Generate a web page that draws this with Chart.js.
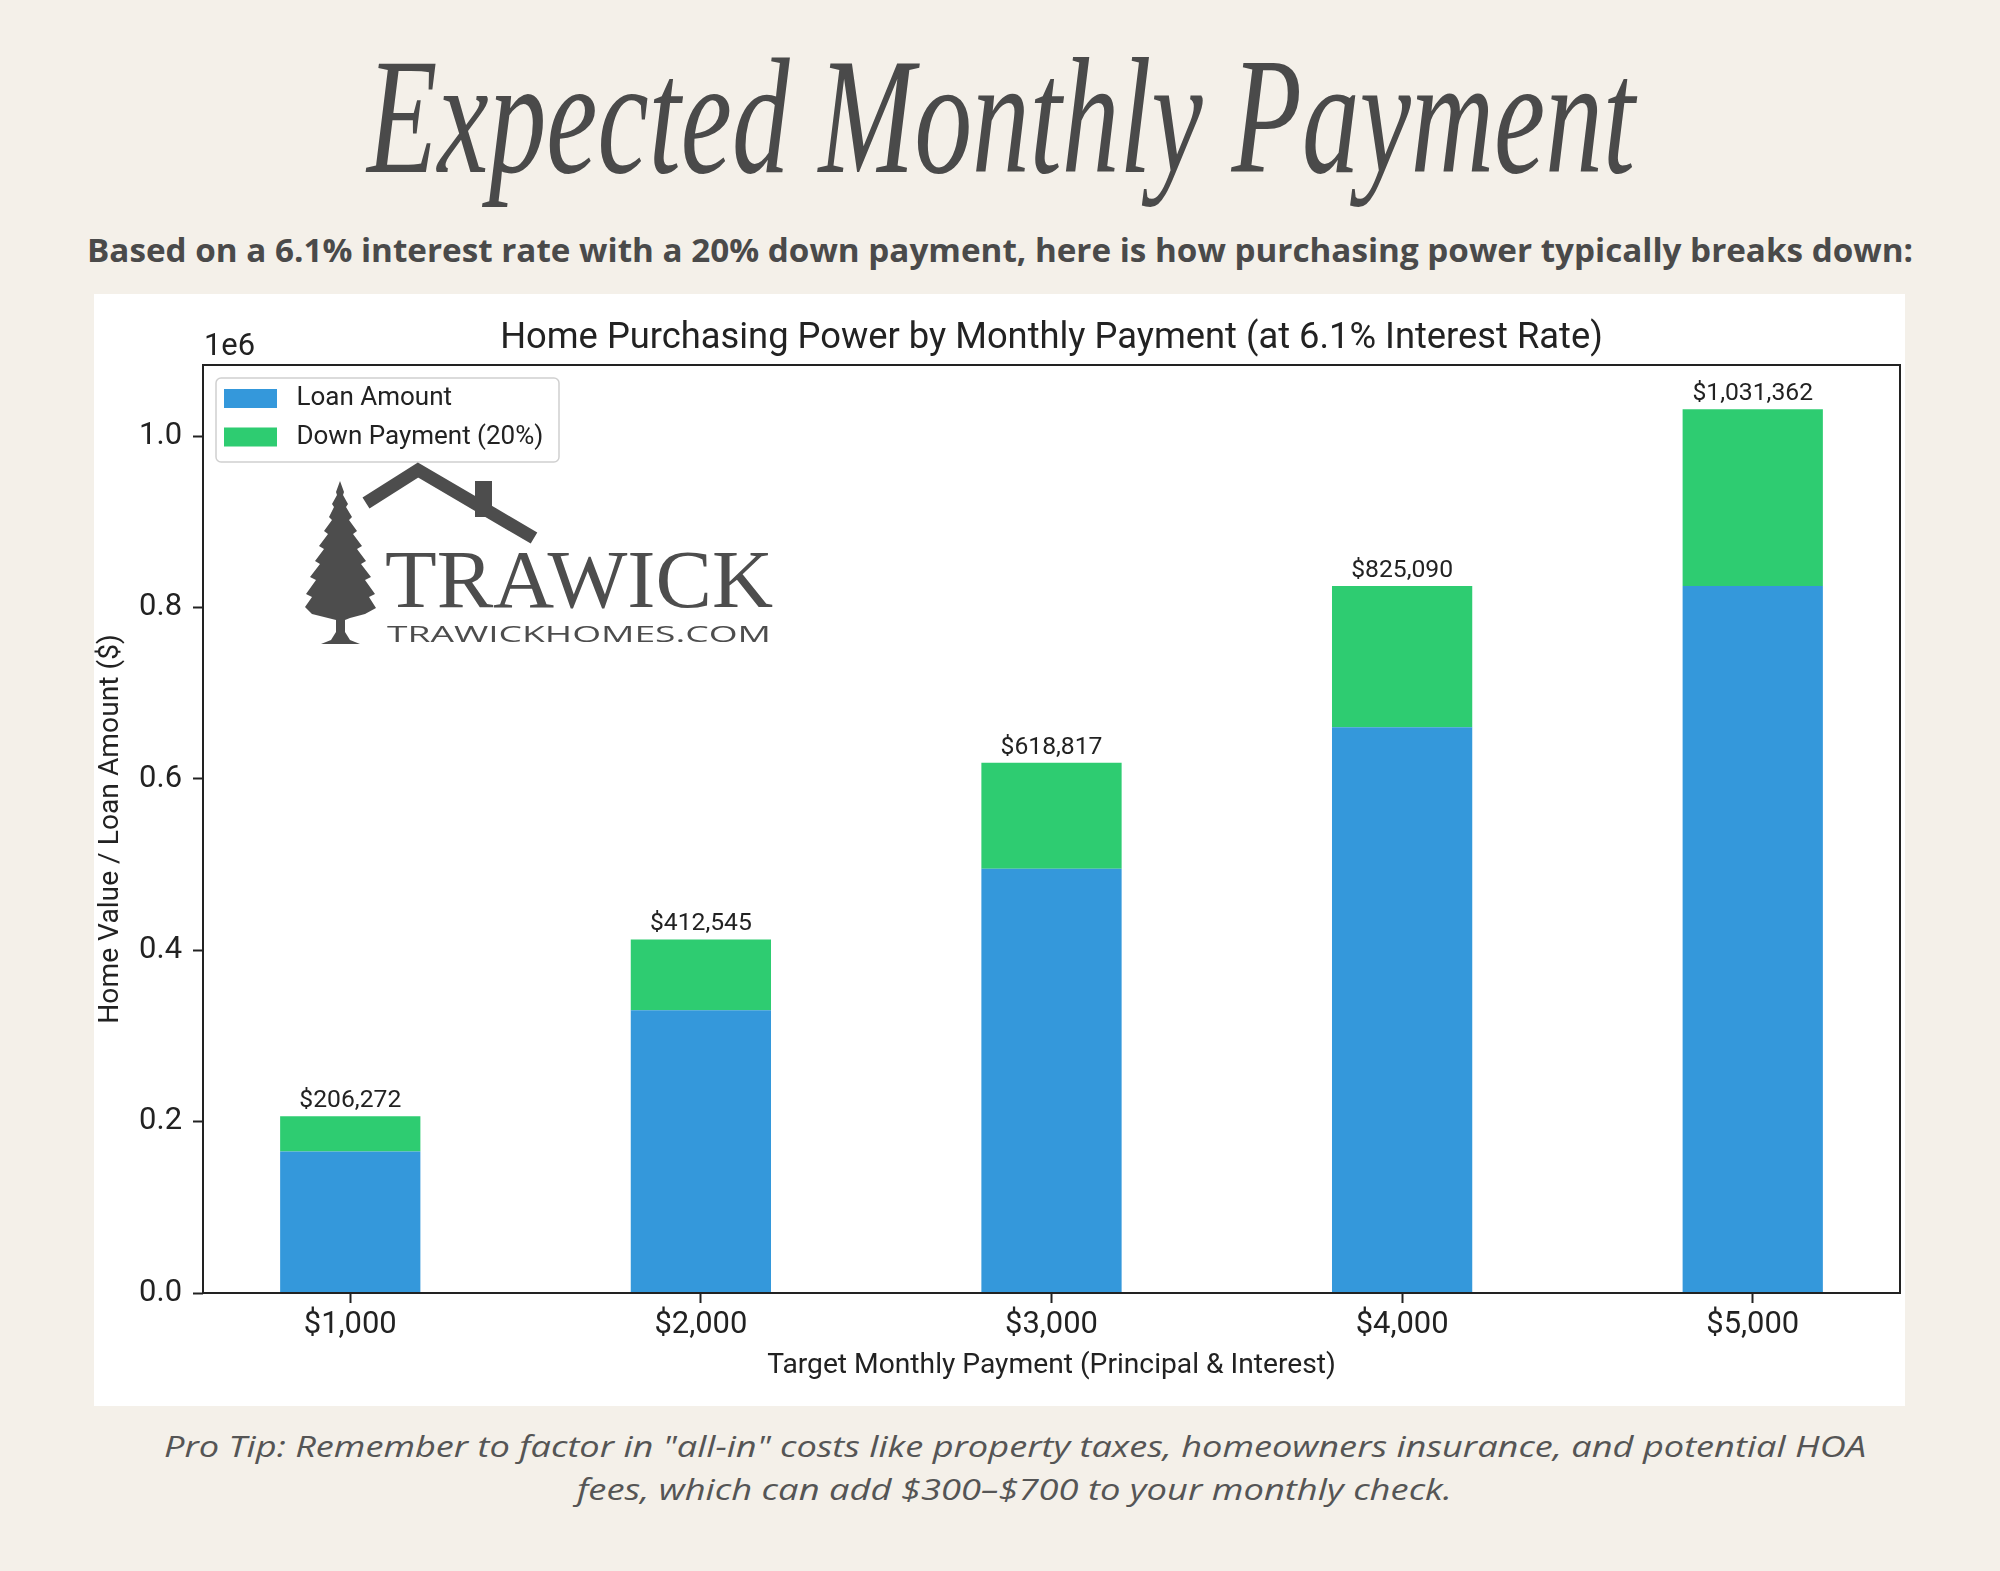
<!DOCTYPE html>
<html><head><meta charset="utf-8">
<script src="https://cdn.jsdelivr.net/npm/chart.js@4.4.1/dist/chart.umd.min.js"></script>
<style>
html,body{margin:0;padding:0;}
body{width:2000px;height:1571px;background:#f4f0e9;position:relative;overflow:hidden;}
#bg{position:absolute;left:0;top:0;}
#panel{position:absolute;left:94px;top:294px;width:1811px;height:1112px;background:#ffffff;}
#panel canvas{position:absolute;left:0;top:0;}
#logo{position:absolute;left:0;top:0;pointer-events:none;z-index:5;}
</style></head><body>
<svg id="bg" width="2000" height="1571">
  <text x="367" y="172" textLength="1268" lengthAdjust="spacingAndGlyphs" font-family="Liberation Serif" font-style="italic" font-size="166" fill="#4a4a4a">Expected Monthly Payment</text>
  <text x="87" y="262" textLength="1826" lengthAdjust="spacingAndGlyphs" font-family="Open Sans" font-weight="700" font-size="32" fill="#4a4a4a">Based on a 6.1% interest rate with a 20% down payment, here is how purchasing power typically breaks down:</text>
  <text x="164" y="1457" textLength="1702" lengthAdjust="spacingAndGlyphs" font-family="Open Sans" font-style="italic" font-weight="400" font-size="30" fill="#555555">Pro Tip: Remember to factor in "all-in" costs like property taxes, homeowners insurance, and potential HOA</text>
  <text x="577" y="1500" textLength="875" lengthAdjust="spacingAndGlyphs" font-family="Open Sans" font-style="italic" font-weight="400" font-size="30" fill="#555555">fees, which can add $300–$700 to your monthly check.</text>
</svg>
<div id="panel"><canvas id="c" width="1811" height="1112"></canvas></div>
<svg id="logo" width="2000" height="1571">
  <g fill="#4d4d4d" stroke="none">
    <polyline points="366,503 418,470 534,538" fill="none" stroke="#4d4d4d" stroke-width="13" stroke-linejoin="miter"/>
    <rect x="475" y="481" width="17" height="36"/>
    <polygon points="340,481 344,492 343,495 348,504 346,507 352,517 349,520 357,531 353,534 362,546 357,549 366,561 361,564 371,577 365,580 375,594 369,597 376,608 365,614 350,618 345,620 345,632 350,640 360,644 321,644 331,640 336,632 336,620 328,618 312,614 305,607 312,597 306,594 316,580 310,577 320,564 315,561 324,549 319,546 328,534 324,531 332,520 329,517 334,507 332,504 337,495 336,492"/>
    <text x="385" y="607" textLength="388" lengthAdjust="spacingAndGlyphs" font-family="Liberation Serif" font-size="82">TRAWICK</text>
    <text x="387" y="642" textLength="384" lengthAdjust="spacingAndGlyphs" font-family="Open Sans" font-size="22">TRAWICKHOMES.COM</text>
  </g>
</svg>
<script>
const categories = ['$1,000', '$2,000', '$3,000', '$4,000', '$5,000'];
const seriesNames = ['Loan Amount', 'Down Payment (20%)'];
const loanAmounts = [165018, 330036, 495054, 660072, 825090];
const downPayments = [41254, 82509, 123763, 165018, 206272];
const totals = [206272, 412545, 618817, 825090, 1031362];
const yTickValues = [0, 200000, 400000, 600000, 800000, 1000000];
const yTickLabels = ['0.0', '0.2', '0.4', '0.6', '0.8', '1.0'];
const yOffsetLabel = '1e6';
const yMax = 1082930;
const xMin = -0.42, xMax = 4.42;
const chartTitle = 'Home Purchasing Power by Monthly Payment (at 6.1% Interest Rate)';
const xTitle = 'Target Monthly Payment (Principal & Interest)';
const yTitle = 'Home Value / Loan Amount ($)';

const FAMILY = 'Roboto';
const mctx = document.createElement('canvas').getContext('2d');
function fit(text, target) {
  mctx.font = '400 100px ' + FAMILY;
  return 100 * target / mctx.measureText(text).width;
}
const tickFont = {family: FAMILY, size: fit('$1,000', 93)};
const labelFont = {family: FAMILY, size: fit('$206,272', 102)};
const legendFont = {family: FAMILY, size: fit('Down Payment (20%)', 247)};
const axisTitleFont = {family: FAMILY, size: fit(xTitle, 569)};
const titleSize = fit(chartTitle, 1103);
const titleFont = {family: FAMILY, size: titleSize, weight: 'normal'};
const tlh = titleSize * 1.2;
const tPadTop = 45 - tlh / 2;
const tPadBottom = 71 - tPadTop - tlh;
const TXT = '#222222';

const framePlugin = {
  id: 'frame',
  afterDatasetsDraw(chart) {
    const {ctx, chartArea: a} = chart;
    ctx.save();
    ctx.strokeStyle = TXT; ctx.lineWidth = 2;
    ctx.strokeRect(a.left, a.top, a.right - a.left, a.bottom - a.top);
    const meta = chart.getDatasetMeta(1);
    ctx.fillStyle = TXT;
    ctx.font = labelFont.size + 'px ' + FAMILY;
    ctx.textAlign = 'center'; ctx.textBaseline = 'alphabetic';
    meta.data.forEach((el, i) => {
      ctx.fillText('$' + totals[i].toLocaleString('en-US'), el.x, el.y - 9);
    });
    ctx.font = tickFont.size + 'px ' + FAMILY;
    ctx.textAlign = 'left';
    ctx.fillText(yOffsetLabel, a.left + 1, a.top - 10);
    ctx.restore();
  },
  afterDraw(chart) {
    const {ctx, chartArea: a} = chart;
    ctx.save();
    ctx.strokeStyle = '#d0d0d0'; ctx.lineWidth = 1.5;
    ctx.beginPath();
    ctx.roundRect(a.left + 13, a.top + 13, 343, 84, 5);
    ctx.stroke();
    ctx.restore();
  },
  afterLayout(chart) {
    const lg = chart.legend, a = chart.chartArea;
    const p = 12.5, fs = legendFont.size;
    lg.left = a.left + 21 - p; lg.right = lg.left + lg.width;
    lg.top = a.top + 24 - p - Math.max((fs - 19) / 2, 0); lg.bottom = lg.top + lg.height;
  }
};

new Chart(document.getElementById('c'), {
  type: 'bar',
  data: {
    datasets: [
      {label: seriesNames[0], data: loanAmounts.map((v, i) => ({x: i, y: v})), backgroundColor: '#3498db', borderWidth: 0, barPercentage: 0.4, categoryPercentage: 1.0},
      {label: seriesNames[1], data: downPayments.map((v, i) => ({x: i, y: v})), backgroundColor: '#2ecc71', borderWidth: 0, barPercentage: 0.4, categoryPercentage: 1.0}
    ]
  },
  options: {
    responsive: false, animation: false, devicePixelRatio: 1,
    layout: {padding: {left: 0, right: 5, top: 0, bottom: 0}},
    scales: {
      x: {
        type: 'linear', stacked: true, min: xMin, max: xMax, offset: false,
        afterBuildTicks: s => { s.ticks = categories.map((_, i) => ({value: i})); },
        afterFit: s => { s.height = 113; },
        ticks: {callback: v => categories[v] ?? '', font: tickFont, color: TXT, padding: 4, autoSkip: false, maxRotation: 0},
        grid: {display: true, drawOnChartArea: false, drawTicks: true, tickLength: 10, tickWidth: 2, tickColor: TXT, offset: false},
        border: {display: false},
        title: {display: true, text: xTitle, font: axisTitleFont, color: TXT, padding: {top: 0, bottom: 23}}
      },
      y: {
        stacked: true, min: 0, max: yMax,
        afterBuildTicks: s => { s.ticks = yTickValues.map(v => ({value: v})); },
        afterFit: s => { s.width = 109; },
        ticks: {callback: v => yTickLabels[yTickValues.indexOf(v)] ?? '', font: tickFont, color: TXT, padding: 11},
        grid: {display: true, drawOnChartArea: false, drawTicks: true, tickLength: 10, tickWidth: 2, tickColor: TXT},
        border: {display: false},
        title: {display: true, text: yTitle, font: axisTitleFont, color: TXT, padding: {top: 0, bottom: 0}}
      }
    },
    plugins: {
      title: {display: true, fullSize: false, text: chartTitle, font: titleFont, color: TXT, padding: {top: tPadTop, bottom: tPadBottom}},
      legend: {
        position: 'chartArea', align: 'start',
        labels: {
          boxWidth: 53, boxHeight: 19, padding: 12.5, font: legendFont, color: TXT,
          generateLabels: chart => Chart.defaults.plugins.legend.labels.generateLabels(chart).map(l => Object.assign(l, {text: ' ' + l.text}))
        }
      },
      tooltip: {enabled: false}
    }
  },
  plugins: [framePlugin]
});
</script>
</body></html>
